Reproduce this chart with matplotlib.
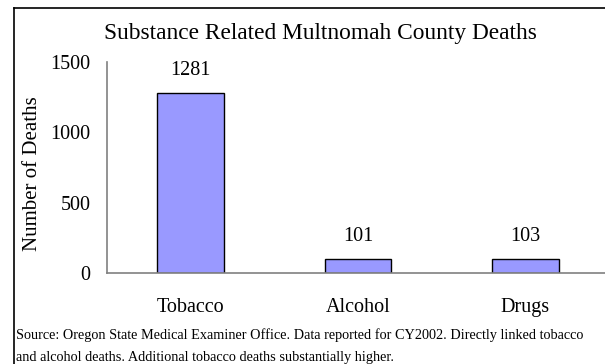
import numpy as np
import matplotlib
matplotlib.use('Agg')
import matplotlib.pyplot as plt
from matplotlib.lines import Line2D

# data
categories = ['Tobacco', 'Alcohol', 'Drugs']
deaths = [1281, 101, 103]
y_ticks = [0, 500, 1000, 1500]

title = 'Substance Related Multnomah County Deaths'
y_label = 'Number of Deaths'
source_lines = [
    'Source: Oregon State Medical Examiner Office. Data reported for CY2002. Directly linked tobacco',
    'and alcohol deaths. Additional tobacco deaths substantially higher.',
]

W, H = 605, 364
plt.rcParams['font.family'] = ['Liberation Serif', 'DejaVu Serif']

fig = plt.figure(figsize=(W / 100, H / 100), dpi=100)

# axes placed in pixel coordinates (right end runs past the image edge)
x0, x1, ytop, ybot = 107, 609, 62, 273
ax = fig.add_axes([x0 / W, 1 - ybot / H, (x1 - x0) / W, (ybot - ytop) / H])

x = np.arange(len(categories))
ax.bar(x, deaths, width=0.4, color='#9999FF', edgecolor='black', linewidth=1.0)
for xi, v in zip(x, deaths):
    ax.annotate(str(v), (xi, v), xytext=(0, 16), textcoords='offset points',
                ha='center', va='center', fontsize=14.5)

ax.set_xlim(-0.5, 2.5)
ax.set_ylim(0, 1500)
ax.set_xticks(x)
ax.set_xticklabels(categories, fontsize=14.5)
ax.set_yticks(y_ticks)
ax.set_yticklabels([str(t) for t in y_ticks], fontsize=14.5)
ax.tick_params(axis='both', length=0)
ax.tick_params(axis='y', pad=12)
ax.tick_params(axis='x', pad=18)

for s in ['top', 'right']:
    ax.spines[s].set_visible(False)
for s in ['left', 'bottom']:
    ax.spines[s].set_color('#808080')
    ax.spines[s].set_linewidth(1.2)

ax.set_ylabel(y_label, fontsize=15, va='center')
ax.yaxis.set_label_coords((33 - x0) / (x1 - x0), 0.47)

fig.text(320 / W, 1 - 33 / H, title, ha='center', va='center', fontsize=16.8)

for i, line in enumerate(source_lines):
    fig.text(16 / W, 1 - (335 + 22 * i) / H, line, ha='left', va='center', fontsize=10.3)

# outer frame: only top and left edges show in the reference
fig.add_artist(Line2D([14 / W, 1], [1 - 8 / H, 1 - 8 / H], color='black', linewidth=1.2))
fig.add_artist(Line2D([14 / W, 14 / W], [0, 1 - 8 / H], color='black', linewidth=1.2))

fig.savefig('out.png', dpi=100)
